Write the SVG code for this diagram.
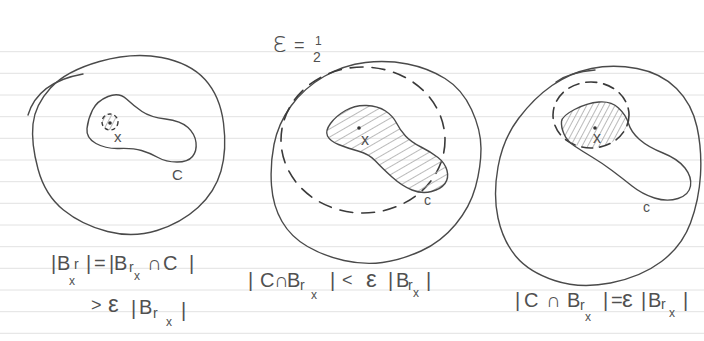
<svg xmlns="http://www.w3.org/2000/svg" width="704" height="341" viewBox="0 0 704 341">
<style>
.rule{stroke:#e2e2e2;stroke-width:1}
.ink{fill:none;stroke:#4a4a4a;stroke-width:1.4;stroke-linecap:round;stroke-linejoin:round}
.dash{fill:none;stroke:#3a3a3a;stroke-width:1.6;stroke-dasharray:13 9;stroke-linecap:round}
.dash-s{fill:none;stroke:#3a3a3a;stroke-width:1.4;stroke-dasharray:4 3}
.t{font-family:"Liberation Sans","DejaVu Sans",sans-serif;fill:#505050;font-size:20px}
.s1{font-size:14px}
.s2{font-size:12px}
.eps{font-size:24px}
.lbl{font-family:"Liberation Sans","DejaVu Sans",sans-serif;fill:#505050}
.dot{fill:#333}
</style>
<defs>
<pattern id="hatchA" width="7" height="7" patternUnits="userSpaceOnUse" patternTransform="rotate(-30)">
<line x1="0" y1="3.5" x2="7" y2="3.5" stroke="#a8a8a8" stroke-width="0.8"/>
</pattern>
<pattern id="hatchB" width="5" height="5" patternUnits="userSpaceOnUse" patternTransform="rotate(-62)">
<line x1="0" y1="2.5" x2="5" y2="2.5" stroke="#a8a8a8" stroke-width="0.8"/>
</pattern>
<clipPath id="cBlob2"><path d="M 330.5,123.5 Q 336,116 345.5,110.5 Q 355,105 366.5,105.5 Q 378,106 385.5,111 Q 393,116 396.5,123 Q 400,130 405.5,136 Q 411,142 421,147 Q 431,152 438,157.5 Q 445,163 447,170.5 Q 449,178 445,183.5 Q 441,189 431.5,191.5 Q 422,194 412,190 Q 402,186 392,177 Q 382,168 375.5,161 Q 369,154 358,151 Q 347,148 338.5,144.5 Q 330,141 327.5,136 Q 325,131 330.5,123.5 Z"/></clipPath>
<clipPath id="cBlob3"><path d="M 574.5,109.5 Q 587,103 599,102 Q 611,101 618.5,108 Q 626,115 628.5,123.5 Q 631,132 639.5,139.5 Q 648,147 663,153 Q 678,159 685,168 Q 692,177 690.5,186 Q 689,195 678,198.5 Q 667,202 654.5,198 Q 642,194 632,186 Q 622,178 612,170.5 Q 602,163 592,157 Q 582,151 574.5,146 Q 567,141 564,134 Q 561,127 561.5,121.5 Q 562,116 574.5,109.5 Z"/></clipPath>
<clipPath id="cEll3"><ellipse cx="591" cy="115" rx="38" ry="33"/></clipPath>
</defs>
<rect width="704" height="341" fill="#ffffff"/>
<g id="ruling">
<line class="rule" x1="0" y1="51.7" x2="704" y2="51.7"/>
<line class="rule" x1="0" y1="73.3" x2="704" y2="73.3"/>
<line class="rule" x1="0" y1="95" x2="704" y2="95"/>
<line class="rule" x1="0" y1="116.7" x2="704" y2="116.7"/>
<line class="rule" x1="0" y1="138.3" x2="704" y2="138.3"/>
<line class="rule" x1="0" y1="160" x2="704" y2="160"/>
<line class="rule" x1="0" y1="181.7" x2="704" y2="181.7"/>
<line class="rule" x1="0" y1="203.3" x2="704" y2="203.3"/>
<line class="rule" x1="0" y1="225" x2="704" y2="225"/>
<line class="rule" x1="0" y1="246.7" x2="704" y2="246.7"/>
<line class="rule" x1="0" y1="268.3" x2="704" y2="268.3"/>
<line class="rule" x1="0" y1="290" x2="704" y2="290"/>
<line class="rule" x1="0" y1="311.7" x2="704" y2="311.7"/>
<line class="rule" x1="0" y1="333.3" x2="704" y2="333.3"/>
</g>
<g id="panel1">
<path class="ink" d="M 50.5,88 Q 66,71 99.5,61.5 Q 133,52 161.5,57.5 Q 190,63 205,79.5 Q 220,96 223.5,123 Q 227,150 221,171 Q 215,192 198,207.5 Q 181,223 157,230.5 Q 133,238 107.5,231.5 Q 82,225 63.5,210 Q 45,195 38,169 Q 31,143 33,124 Q 35,105 50.5,88 Z"/>
<path class="ink" d="M 28,115 Q 38,82 83,74"/>
<path class="ink" d="M 108,96.5 Q 119,92 126.5,99 Q 134,106 142,111.5 Q 150,117 165.5,119 Q 181,121 188,127.5 Q 195,134 196,142.5 Q 197,151 192.5,156.5 Q 188,162 177,162 Q 166,162 158,157.5 Q 150,153 141.5,150.5 Q 133,148 119.5,148.5 Q 106,149 96,143.5 Q 86,138 87,128.5 Q 88,119 92.5,110 Q 97,101 108,96.5 Z"/>
<circle cx="110" cy="122" r="8" fill="url(#hatchB)"/>
<circle class="dash-s" cx="110" cy="122" r="8"/>
<circle class="dot" cx="110" cy="123" r="1.8"/>
<text class="lbl" x="114" y="142" font-size="15">x</text>
<text class="lbl" x="172" y="180" font-size="15">C</text>
</g>
<g id="panel2">
<text class="lbl" x="272" y="52" font-size="28" style="font-family:'DejaVu Sans',sans-serif;font-weight:200">ε</text>
<text class="lbl" x="294" y="51" font-size="18">=</text>
<text class="lbl" x="315" y="45" font-size="12">1</text>
<text class="lbl" x="313" y="62" font-size="14">2</text>
<path class="ink" d="M 407.5,64 Q 428,68 445,78.5 Q 462,89 471.5,109.5 Q 481,130 481,148.5 Q 481,167 475.5,187 Q 470,207 455.5,224.5 Q 441,242 421,251 Q 401,260 382.5,262.5 Q 364,265 344,260.5 Q 324,256 307.5,246.5 Q 291,237 282,221.5 Q 273,206 271.5,185.5 Q 270,165 274,144.5 Q 278,124 291,106 Q 304,88 324,76.5 Q 344,65 365.5,62.5 Q 387,60 407.5,64 Z"/>
<ellipse class="dash" cx="363" cy="140" rx="82" ry="73"/>
<rect x="320" y="100" width="135" height="100" fill="url(#hatchA)" clip-path="url(#cBlob2)"/>
<path class="ink" d="M 330.5,123.5 Q 336,116 345.5,110.5 Q 355,105 366.5,105.5 Q 378,106 385.5,111 Q 393,116 396.5,123 Q 400,130 405.5,136 Q 411,142 421,147 Q 431,152 438,157.5 Q 445,163 447,170.5 Q 449,178 445,183.5 Q 441,189 431.5,191.5 Q 422,194 412,190 Q 402,186 392,177 Q 382,168 375.5,161 Q 369,154 358,151 Q 347,148 338.5,144.5 Q 330,141 327.5,136 Q 325,131 330.5,123.5 Z"/>
<circle class="dot" cx="359" cy="128" r="1.8"/>
<text class="lbl" x="361" y="145" font-size="16">x</text>
<text class="lbl" x="424" y="205" font-size="14">c</text>
</g>
<g id="panel3">
<path class="ink" d="M 637,68.5 Q 661,73 676.5,88.5 Q 692,104 697,127 Q 702,150 700.5,175 Q 699,200 690.5,223 Q 682,246 661.5,261.5 Q 641,277 610.5,283 Q 580,289 554.5,280.5 Q 529,272 516,256.5 Q 503,241 498,218 Q 493,195 498,167 Q 503,139 518.5,118.5 Q 534,98 552,85.5 Q 570,73 591.5,68.5 Q 613,64 637,68.5 Z"/>
<path class="ink" d="M 556,82 Q 570,72 595,70"/>
<g clip-path="url(#cEll3)"><rect x="555" y="95" width="80" height="60" fill="url(#hatchB)" clip-path="url(#cBlob3)"/></g>
<ellipse class="dash" cx="591" cy="115" rx="38" ry="33" style="stroke-dasharray:11 7"/>
<path class="ink" d="M 574.5,109.5 Q 587,103 599,102 Q 611,101 618.5,108 Q 626,115 628.5,123.5 Q 631,132 639.5,139.5 Q 648,147 663,153 Q 678,159 685,168 Q 692,177 690.5,186 Q 689,195 678,198.5 Q 667,202 654.5,198 Q 642,194 632,186 Q 622,178 612,170.5 Q 602,163 592,157 Q 582,151 574.5,146 Q 567,141 564,134 Q 561,127 561.5,121.5 Q 562,116 574.5,109.5 Z"/>
<circle class="dot" cx="595" cy="128" r="1.8"/>
<text class="lbl" x="593" y="143" font-size="16">x</text>
<text class="lbl" x="643" y="212" font-size="14">c</text>
</g>
<g id="labels">
<text id="label1a" class="t" y="270"><tspan x="51">|</tspan><tspan x="57">B</tspan><tspan class="s1" x="74" y="269">r</tspan><tspan class="s2" x="69" y="285">x</tspan><tspan x="86" y="270">|</tspan><tspan x="94">=</tspan><tspan x="109">|</tspan><tspan x="114">B</tspan><tspan class="s1" x="129" y="272">r</tspan><tspan class="s2" x="134" y="280">x</tspan><tspan x="147" y="270">∩</tspan><tspan x="163">C</tspan><tspan x="189">|</tspan></text>
<text id="label1b" class="t" y="312"><tspan x="91" y="311" font-size="18">&gt;</tspan><tspan class="eps" x="108" y="312">ε</tspan><tspan x="131" y="315">|</tspan><tspan x="139" y="314">B</tspan><tspan class="s1" x="153" y="318">r</tspan><tspan class="s2" x="166" y="326">x</tspan><tspan x="181" y="317">|</tspan></text>
<text id="label2" class="t" y="287"><tspan x="248">|</tspan><tspan x="260">C</tspan><tspan x="274">∩</tspan><tspan x="287">B</tspan><tspan class="s1" x="300" y="290">r</tspan><tspan class="s2" x="311" y="299">x</tspan><tspan x="330" y="287">|</tspan><tspan x="342" y="286" font-size="18">&lt;</tspan><tspan class="eps" x="366" y="287">ε</tspan><tspan x="388">|</tspan><tspan x="396">B</tspan><tspan class="s1" x="408" y="290">r</tspan><tspan class="s2" x="413" y="297">x</tspan><tspan x="426" y="287">|</tspan></text>
<text id="label3" class="t" y="307"><tspan x="515">|</tspan><tspan x="524">C</tspan><tspan x="546">∩</tspan><tspan x="567">B</tspan><tspan class="s1" x="580" y="310">r</tspan><tspan class="s2" x="585" y="321">x</tspan><tspan x="603" y="307">|</tspan><tspan x="611">=</tspan><tspan class="eps" x="622">ε</tspan><tspan x="641">|</tspan><tspan x="648">B</tspan><tspan class="s1" x="661" y="309">r</tspan><tspan class="s2" x="669" y="317">x</tspan><tspan x="683" y="307">|</tspan></text>
</g>
</svg>
